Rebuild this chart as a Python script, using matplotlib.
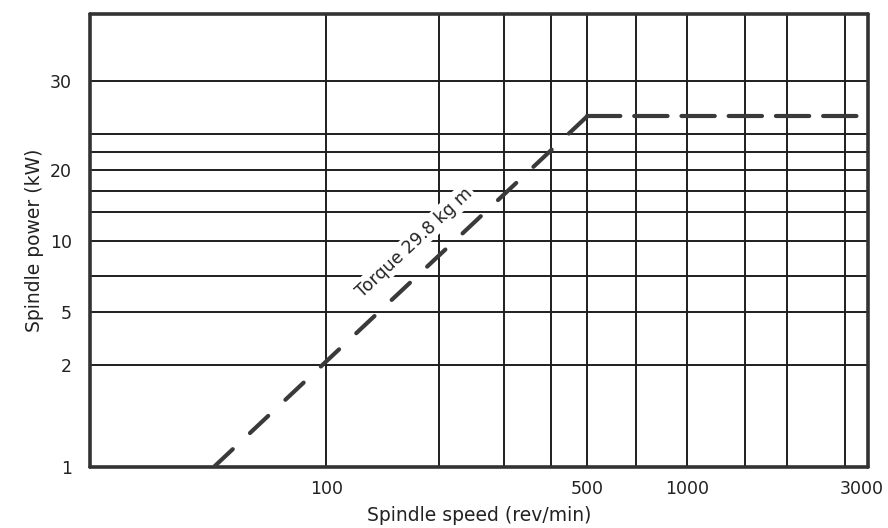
import numpy as np
import matplotlib
matplotlib.use('Agg')
import matplotlib.pyplot as plt
import matplotlib.transforms as mtransforms

# ---- data ----
speed_ticks = [100, 500, 1000, 3000]
speed_grid = [100, 200, 300, 400, 500, 700, 1000, 1500, 2000, 3000]
power_ticks = [1, 2, 5, 10, 20, 30]
power_grid = [2, 5, 7.5, 10, 14, 17, 20, 22, 24, 30]

torque_speed = [50, 500, 3380]
torque_power = [1, 26, 26]
torque_label = 'Torque 29.8 kg m'

# ---- hand-drawn axis scales (stops = value, where = drawing width/height) ----
X_STOPS = np.log10([100, 500, 1000, 3000])
X_WHERE = [326, 587, 687, 845]
Y_STOPS = [1, 2, 5, 10, 20, 30]
Y_WHERE = [0, 102, 155, 226, 297, 386]


def piecewise(stops, where):
    s = np.asarray(stops, float)
    w = np.asarray(where, float)

    def _map(v, a, b):
        v = np.asarray(v, float)
        out = np.interp(v, a, b)
        out = np.where(v < a[0], b[0] + (v - a[0]) * (b[1] - b[0]) / (a[1] - a[0]), out)
        out = np.where(v > a[-1], b[-1] + (v - a[-1]) * (b[-1] - b[-2]) / (a[-1] - a[-2]), out)
        return out

    return (lambda v: _map(v, s, w)), (lambda p: _map(p, w, s))


xf, xi = piecewise(X_STOPS, X_WHERE)
yf, yi = piecewise(Y_STOPS, Y_WHERE)


def x_fwd(v):
    return xf(np.log10(np.clip(np.asarray(v, float), 1e-9, None)))


def x_inv(p):
    return 10 ** xi(p)


plt.rcParams['font.family'] = ['DejaVu Sans']
plt.rcParams['lines.scale_dashes'] = False

fig = plt.figure(figsize=(8.88, 5.28), dpi=100, facecolor='white')
ax = fig.add_axes([90 / 888, 1 - 467 / 528, 778 / 888, 453 / 528])
ax.set_xscale('function', functions=(x_fwd, x_inv))
ax.set_yscale('function', functions=(yf, yi))
ax.set_xlim(23.3, 3520)
ax.set_ylim(1, 37.5)

ink = '#1e1e1e'
for v in speed_grid:
    ax.axvline(v, color=ink, lw=1.4, zorder=1)
for v in power_grid:
    ax.axhline(v, color=ink, lw=1.4, zorder=1)

dash_ink = '#3a3a3a'
# rising part, drawn from the corner down so a dash sits on the knee
ax.plot(torque_speed[1::-1], torque_power[1::-1], color=dash_ink, lw=3.0,
        linestyle=(0, (18, 17)), dash_capstyle='round', zorder=3)
# constant-power part
ax.plot(torque_speed[1:], torque_power[1:], color=dash_ink, lw=3.0,
        linestyle=(0, (24, 10)), dash_capstyle='round', zorder=3)

ax.text(172, 9.9, torque_label, rotation=43, ha='center', va='center',
        fontsize=12.5, color='#222222', zorder=2,
        bbox=dict(facecolor='white', edgecolor='none', pad=1.5))

for s in ax.spines.values():
    s.set_linewidth(2.6)
    s.set_color('#333333')
    s.set_capstyle('round')

ax.set_xticks(speed_ticks)
ax.set_xticklabels([str(v) for v in speed_ticks])
ax.set_yticks(power_ticks)
ax.set_yticklabels([str(v) for v in power_ticks])
ax.minorticks_off()
ax.tick_params(length=0, labelsize=12.5, colors='#222222')
ax.tick_params(axis='x', pad=9)
ax.tick_params(axis='y', pad=13)

# last speed label sits off its grid line, against the right border
last = ax.get_xticklabels()[-1]
last.set_transform(last.get_transform() +
                   mtransforms.ScaledTranslation(17 / 100, 0, fig.dpi_scale_trans))

ax.set_xlabel('Spindle speed (rev/min)', fontsize=13.5, color='#222222', labelpad=6)
ax.set_ylabel('Spindle power (kW)', fontsize=13.5, color='#222222', labelpad=4)

fig.savefig('out.png', dpi=100, facecolor='white')
